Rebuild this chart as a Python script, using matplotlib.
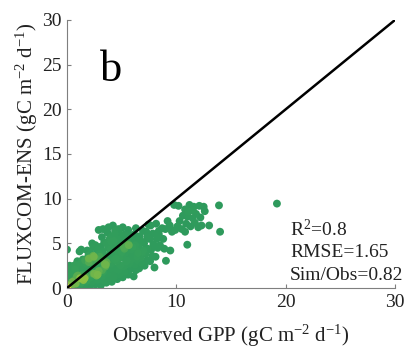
import numpy as np
import matplotlib
matplotlib.use("Agg")
from matplotlib import pyplot as plt
from matplotlib.colors import LinearSegmentedColormap

plt.rcParams['font.family'] = ['Liberation Serif']
plt.rcParams['mathtext.fontset'] = 'custom'
plt.rcParams['mathtext.rm'] = 'Liberation Serif'
plt.rcParams['mathtext.it'] = 'Liberation Serif:italic'

# observed GPP (x) and FLUXCOM-ENS (y)
obs = [
  # 0 - 1
  0.0, 0.1, 0.2, 0.05, 0.3, 0.15, 0.4, 0.25, 0.0, 0.35, 0.1,
  0.6, 0.8, 0.7, 0.9, 0.55, 0.75, 0.65, 0.95, 0.85,
  # 1 - 2
  1.1, 1.3, 1.2, 1.4, 1.05, 1.35, 1.25, 1.45, 1.15, 1.3,
  1.6, 1.8, 1.7, 1.9, 1.55, 1.75, 1.65, 1.95, 1.85,
  # 2 - 3
  2.1, 2.3, 2.2, 2.4, 2.05, 2.35, 2.25, 2.45, 2.15, 2.4, 2.3,
  2.6, 2.8, 2.7, 2.9, 2.55, 2.85, 2.65, 2.95, 2.75, 2.6, 2.9,
  # 3 - 4
  3.1, 3.4, 3.2, 3.3, 3.0, 3.45, 3.15, 3.35, 3.25, 3.05, 3.4, 3.2, 3.3,
  3.6, 3.8, 3.7, 3.9, 3.55, 3.85, 3.65, 3.95, 3.75, 3.6, 3.9, 3.7, 3.8,
  # 4 - 5
  4.1, 4.3, 4.2, 4.4, 4.05, 4.35, 4.25, 4.45, 4.15, 4.3, 4.1, 4.4, 4.2,
  4.6, 4.8, 4.7, 4.9, 4.55, 4.85, 4.65, 4.95, 4.75, 4.6, 4.9, 4.7,
  # 5 - 6
  5.1, 5.3, 5.2, 5.4, 5.05, 5.35, 5.25, 5.45, 5.15, 5.3, 5.1,
  5.6, 5.8, 5.7, 5.9, 5.55, 5.85, 5.65, 5.95, 5.75, 5.6,
  # 6 - 7
  6.1, 6.3, 6.2, 6.4, 6.05, 6.35, 6.25, 6.45, 6.15, 6.3,
  6.6, 6.8, 6.7, 6.9, 6.55, 6.85, 6.65, 6.95,
  # 7 - 8.5
  7.1, 7.3, 7.2, 7.4, 7.05, 7.35, 7.25, 7.45,
  7.6, 7.8, 7.7, 7.9, 7.55, 7.85, 7.65,
  8.1, 8.3, 8.2, 8.4, 8.15,
  # fill-in points inside the cloud
  0.5, 1.0, 1.5, 2.0, 2.5, 3.0, 3.5, 4.0, 4.5, 5.0, 5.5, 6.0, 6.5, 7.0,
  0.8, 1.6, 2.4, 3.2, 4.0, 4.8, 5.6, 6.4, 2.0, 3.6, 5.2, 4.4, 2.8,
  # upper right group
  9.8, 10.2, 11.2, 11.6, 12.1, 12.5, 10.8, 11.1, 11.5, 10.6, 11.0, 11.8,
  12.2, 10.3, 10.1, 9.4, 9.9, 10.5, 10.8, 11.3, 11.7, 12.3, 13.0, 13.9,
  14.0, 19.2, 11.0, 9.6, 9.0, 8.7, 9.2, 8.4, 8.8, 9.45, 9.05, 8.0, 8.5,
  8.9, 12.0, 11.5, 10.9, 12.6,
]
sim = [
  # 0 - 1
  0.0, 0.3, 0.6, 1.0, 1.4, 1.8, 2.2, 2.5, 4.3, 0.1, 1.1,
  0.1, 0.5, 0.9, 1.3, 1.7, 2.1, 2.5, 3.0, 0.2,
  # 1 - 2
  0.2, 0.6, 1.1, 1.5, 1.9, 2.4, 2.8, 3.2, 4.1, 4.3,
  0.3, 0.8, 1.3, 1.8, 2.2, 2.7, 3.1, 3.6, 4.2,
  # 2 - 3
  0.2, 0.7, 1.2, 1.6, 2.1, 2.5, 3.0, 3.5, 3.9, 4.6, 5.0,
  0.4, 0.9, 1.4, 1.9, 2.3, 2.8, 3.3, 3.8, 4.3, 4.8, 6.5,
  # 3 - 4
  0.3, 0.8, 1.3, 1.8, 2.3, 2.7, 3.2, 3.7, 4.1, 4.6, 5.1, 5.7, 6.6,
  0.6, 1.1, 1.6, 2.1, 2.6, 3.1, 3.5, 4.0, 4.5, 5.0, 5.5, 6.2, 6.8,
  # 4 - 5
  0.7, 1.2, 1.7, 2.2, 2.7, 3.2, 3.7, 4.2, 4.7, 5.3, 5.8, 6.4, 7.0,
  1.0, 1.5, 2.0, 2.5, 3.0, 3.5, 4.0, 4.5, 5.0, 5.5, 6.0, 6.6,
  # 5 - 6
  1.2, 1.8, 2.4, 2.9, 3.4, 3.9, 4.4, 4.9, 5.4, 6.0, 6.8,
  1.5, 2.1, 2.7, 3.2, 3.7, 4.3, 4.8, 5.3, 5.8, 6.5,
  # 6 - 7
  1.3, 2.0, 2.6, 3.1, 3.7, 4.2, 4.8, 5.4, 6.0, 6.7,
  2.2, 2.8, 3.4, 4.0, 4.6, 5.2, 5.8, 6.4,
  # 7 - 8.5
  2.5, 3.1, 3.8, 4.4, 5.0, 5.7, 6.3, 7.1,
  3.0, 3.6, 4.3, 4.9, 5.5, 6.1, 7.0,
  3.5, 4.5, 5.5, 6.4, 7.2,
  # fill-in points inside the cloud
  0.7, 1.4, 0.9, 2.9, 1.6, 3.5, 2.4, 4.4, 3.3, 4.0, 3.1, 4.6, 3.9, 4.2,
  2.6, 1.1, 3.6, 2.0, 5.2, 2.6, 5.0, 3.5, 3.3, 2.9, 4.6, 6.1, 1.5,
  # upper right group
  9.3, 9.2, 9.3, 9.1, 9.2, 9.1, 8.8, 8.5, 8.7, 8.1, 8.0, 8.3,
  7.9, 7.5, 6.9, 7.0, 6.5, 6.6, 6.3, 6.9, 7.3, 7.0, 7.0, 9.25,
  6.3, 9.45, 4.85, 6.3, 6.6, 6.7, 7.5, 6.0, 5.5, 4.2, 3.05, 2.3, 4.8,
  4.4, 6.8, 7.8, 7.2, 8.6,
]

stats = ["R$^{2}$=0.8", "RMSE=1.65", "Sim/Obs=0.82"]

x = np.array(obs)
y = np.array(sim)

# point density for colouring
d = np.zeros(len(x))
for i in range(len(x)):
  d[i] = np.sum(np.exp(-((x - x[i])**2 + (y - y[i])**2) / (2 * 0.35**2)))
d = (d - d.min()) / (d.max() - d.min())
# the pile of points at the origin is the densest spot
d0 = np.exp(-(x**2 + y**2) / (2 * 0.4**2))
dens = np.maximum(0.75 * d**2, d0)
order = np.argsort(dens)

cmap = LinearSegmentedColormap.from_list(
  "dens", [(0.0, "#2e9a5c"), (0.5, "#35a05a"), (0.75, "#8cc043"), (1.0, "#f7ee20")])

fig = plt.figure(figsize=(4.06, 3.5), dpi=100)
ax = fig.add_axes([0.165, 0.177, 0.808, 0.766])

ax.scatter(x[order], y[order], c=dens[order], cmap=cmap, vmin=0, vmax=1, s=32, edgecolors='none', zorder=2)
ax.plot([0, 30], [0, 30], color='black', lw=1.8, zorder=3)

ax.set_xlim(0, 30)
ax.set_ylim(0, 30)
ax.set_xticks([0, 10, 20, 30])
ax.set_yticks([0, 5, 10, 15, 20, 25, 30])
for s in ['top', 'right']:
  ax.spines[s].set_visible(False)
for s in ['left', 'bottom']:
  ax.spines[s].set_color('#7f7f7f')
  ax.spines[s].set_linewidth(0.8)
ax.tick_params(direction='in', length=3, color='#7f7f7f', labelsize=14, labelcolor='#222222', pad=4)

ax.set_xlabel("Observed GPP (gC m$^{-2}$ d$^{-1}$)", fontsize=15, color='#222222', labelpad=9)
ax.set_ylabel("FLUXCOM-ENS (gC m$^{-2}$ d$^{-1}$)", fontsize=15, color='#222222', labelpad=1)

ax.text(3.0, 24.4, "b", fontsize=32, va='center', ha='left')
for k, t in enumerate(stats):
  ax.text(20.4, 6.6 - k * 2.6, t, fontsize=14, va='center', ha='left', color='#222222')

fig.savefig("out.png", dpi=100)
